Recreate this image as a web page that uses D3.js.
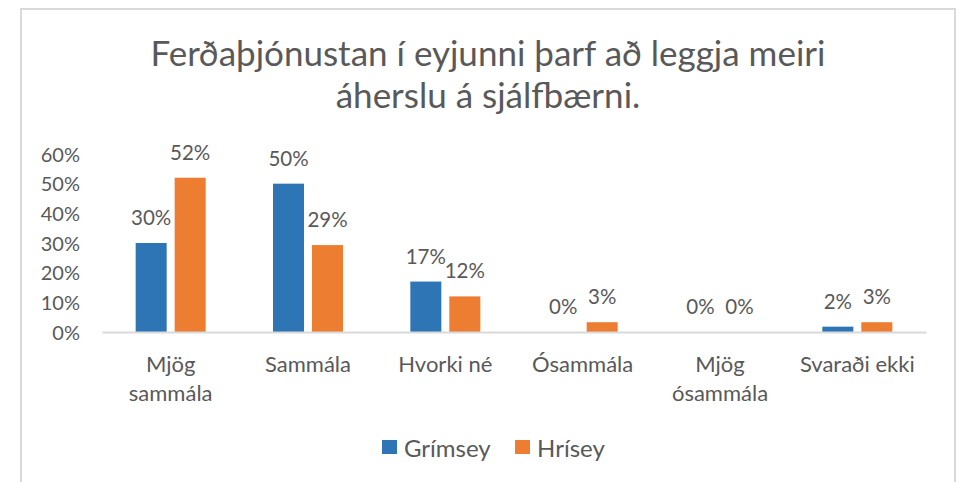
<!DOCTYPE html>
<html>
<head>
<meta charset="utf-8">
<script src="https://cdn.jsdelivr.net/npm/d3@7"></script>
<style>
  html, body { margin: 0; padding: 0; background: #fff; }
  svg { display: block; }
  text { font-family: Lato, "Open Sans", sans-serif; fill: #595959; }
</style>
</head>
<body>
<svg id="chart" width="962" height="482"></svg>
<script>
const titleLines = ["Ferðaþjónustan í eyjunni þarf að leggja meiri", "áherslu á sjálfbærni."];
const categories = ["Mjög sammála", "Sammála", "Hvorki né", "Ósammála", "Mjög ósammála", "Svaraði ekki"];
const seriesNames = ["Grímsey", "Hrísey"];
const grimsey = [0.30, 0.50, 0.17, 0.00, 0.00, 0.018];
const hrisey  = [0.52, 0.293, 0.12, 0.033, 0.00, 0.033];
const yTicks = [0, 0.1, 0.2, 0.3, 0.4, 0.5, 0.6];
const colors = ["#2E75B6", "#ED7D31"];

const svg = d3.select("#chart");
const plot = { left: 102, right: 926, top: 154, bottom: 332 };

// outer chart border
svg.append("rect")
  .attr("x", 21).attr("y", 9).attr("width", 934).attr("height", 490)
  .attr("fill", "#fff").attr("stroke", "#D9D9D9").attr("stroke-width", 2);

// title
const title = svg.append("text").attr("text-anchor", "middle")
  .style("font-size", "35px").style("font-weight", 400);
titleLines.forEach((t, i) => {
  title.append("tspan").attr("x", 488).attr("y", 66 + i * 42).text(t);
});

const series = seriesNames.map((name, si) => ({
  name, color: colors[si], values: si === 0 ? grimsey : hrisey
}));

const x = d3.scaleBand().domain(categories).range([plot.left, plot.right]).padding(0);
const xInner = d3.scaleBand().domain(seriesNames).range([0, x.bandwidth()])
  .paddingInner(0.205).paddingOuter(0.863);
const y = d3.scaleLinear().domain([0, 0.6]).range([plot.bottom, plot.top]);

// y axis (labels only)
const yAxis = d3.axisLeft(y).tickValues(yTicks).tickFormat(d3.format(".0%")).tickSize(0).tickPadding(0);
const yg = svg.append("g").attr("transform", `translate(80,0)`).call(yAxis);
yg.select(".domain").remove();
yg.selectAll("text").style("font-size", "20px").style("font-family", "Lato").attr("fill", "#595959")
  .attr("dy", "0.35em");

// bars
const groups = svg.append("g").selectAll("g").data(series).join("g").attr("fill", d => d.color);
groups.selectAll("rect")
  .data(s => s.values.map((v, i) => ({ v, cat: categories[i], name: s.name })))
  .join("rect")
  .attr("x", d => x(d.cat) + xInner(d.name))
  .attr("width", xInner.bandwidth())
  .attr("y", d => y(d.v))
  .attr("height", d => y(0) - y(d.v));

// data labels
const fmt = d3.format(".0%");
groups.selectAll("text.lbl")
  .data(s => s.values.map((v, i) => ({ v, cat: categories[i], name: s.name })))
  .join("text").attr("class", "lbl")
  .attr("x", d => x(d.cat) + xInner(d.name) + xInner.bandwidth() / 2)
  .attr("y", d => y(d.v) - 18)
  .attr("text-anchor", "middle")
  .style("font-size", "20.5px")
  .text(d => fmt(d.v));

// x axis
const xAxis = d3.axisBottom(x).tickSize(0).tickPadding(0).tickFormat("");
const xg = svg.append("g").attr("transform", `translate(0,${plot.bottom})`).call(xAxis);
xg.select(".domain").attr("stroke", "#D9D9D9").attr("stroke-width", 2);

// category labels with wrapping
const maxW = 124;
xg.selectAll(".tick").each(function(d) {
  const g = d3.select(this);
  const t = g.append("text").attr("text-anchor", "middle").style("font-size", "22px")
    .attr("fill", "#595959");
  const words = d.split(" ");
  let lines = [], line = [];
  const probe = t.append("tspan").attr("x", 0);
  words.forEach(w => {
    line.push(w);
    probe.text(line.join(" "));
    if (probe.node().getComputedTextLength() > maxW && line.length > 1) {
      line.pop(); lines.push(line.join(" ")); line = [w];
    }
  });
  lines.push(line.join(" "));
  probe.remove();
  lines.forEach((l, i) => t.append("tspan").attr("x", 0).attr("y", 40 + i * 29).text(l));
});

// legend
const legend = svg.append("g");
const legendX = [382, 515];
series.forEach((s, i) => {
  legend.append("rect").attr("x", legendX[i]).attr("y", 440).attr("width", 15).attr("height", 14).attr("fill", s.color);
  legend.append("text").attr("x", legendX[i] + 22).attr("y", 457).style("font-size", "24px").text(s.name);
});
</script>
</body>
</html>
